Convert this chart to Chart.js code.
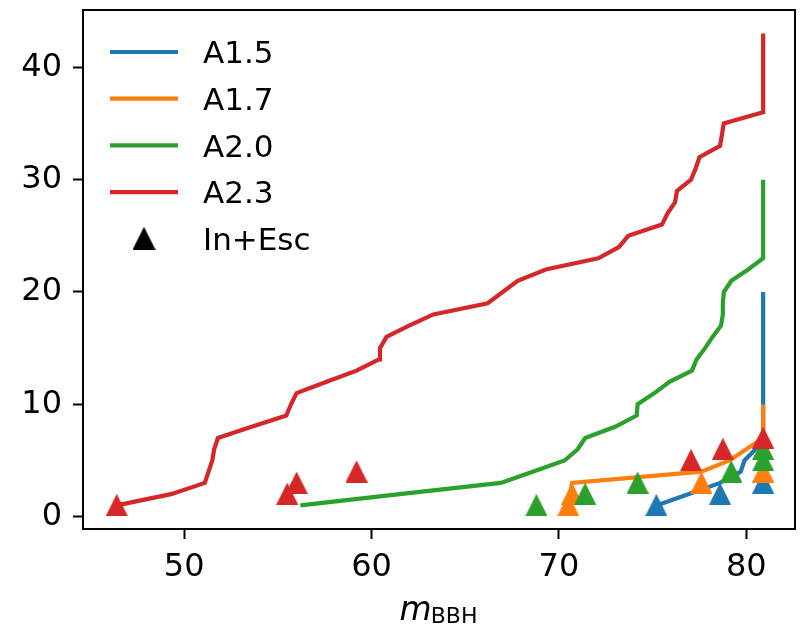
<!DOCTYPE html>
<html lang="en">
<head>
<meta charset="UTF-8">
<title>m_BBH cumulative counts</title>
<script src="https://cdn.jsdelivr.net/npm/chart.js"></script>
<style>
    body { margin: 0; background: #fff; }
    #chart { display: block; }
</style>
</head>
<body>
<canvas id="chart" width="800" height="627"></canvas>
<script>
    // series lines (cumulative count vs m_BBH)
    const a15LineX = [75.2, 76.9, 78.6, 79.7, 79.9, 80.5, 80.9, 80.9];
    const a15LineY = [1, 2, 3, 4, 5, 6, 7, 20];
    const a17LineX = [70.5, 70.6, 70.7, 77.6, 79.1, 80.0, 80.9, 80.9];
    const a17LineY = [1, 2, 3, 4, 5, 6, 7, 10];
    const a20LineX = [56.2, 61.5, 66.9, 68.6, 70.3, 71.0, 71.4, 73.0, 74.15, 74.2, 75.1, 75.9,
                      77.1, 77.35, 77.8, 78.2, 78.65, 78.75, 78.75, 78.8, 79.2, 80.1, 80.9, 80.9];
    const a20LineY = [1, 2, 3, 4, 5, 6, 7, 8, 9, 10, 11, 12,
                      13, 14, 15, 16, 17, 18, 19, 20, 21, 22, 23, 30];
    const a23LineX = [46.4, 49.3, 51.1, 51.3, 51.5, 51.6, 51.8, 53.6, 55.45, 55.7, 56.0, 57.6,
                      59.2, 60.4, 60.45, 60.8, 62.0, 63.3, 66.2, 67.0, 67.8, 69.3, 72.1, 73.2,
                      73.7, 75.5, 75.8, 76.2, 76.3, 77.05, 77.3, 77.5, 78.6, 78.7, 78.8, 80.9, 80.9];
    const a23LineY = [1, 2, 3, 4, 5, 6, 7, 8, 9, 10, 11, 12,
                      13, 14, 15, 16, 17, 18, 19, 20, 21, 22, 23, 24,
                      25, 26, 27, 28, 29, 30, 31, 32, 33, 34, 35, 36, 43];

    // In+Esc markers
    const a15MarkX = [75.2, 78.6, 80.9];
    const a15MarkY = [1, 2, 3];
    const a17MarkX = [70.5, 70.7, 77.6, 80.9];
    const a17MarkY = [1, 2, 3, 4];
    const a20MarkX = [68.8, 71.4, 74.2, 79.2, 80.9, 80.9];
    const a20MarkY = [1, 2, 3, 4, 5, 6];
    const a23MarkX = [46.4, 55.5, 56.0, 59.2, 77.05, 78.75, 80.9];
    const a23MarkY = [1, 2, 3, 4, 5, 6, 7];

    const seriesNames = ["A1.5", "A1.7", "A2.0", "A2.3"];
    const markerName = "In+Esc";
    const xTicks = [50, 60, 70, 80];
    const yTicks = [0, 10, 20, 30, 40];
    const xTitle = "m";
    const xTitleSub = "BBH";

    const colors = ["#1f77b4", "#ff7f0e", "#2ca02c", "#d62728"];
    const FONT = "'DejaVu Sans', sans-serif";

    function pts(xs, ys) {
        return xs.map((x, i) => ({ x: x, y: ys[i] }));
    }

    // matplotlib-like "^" marker: bbox centred on the point
    function triangle(color, size) {
        const c = document.createElement("canvas");
        c.width = size; c.height = size;
        const g = c.getContext("2d");
        g.fillStyle = color;
        g.strokeStyle = color;
        g.lineWidth = 1;
        g.beginPath();
        g.moveTo(size / 2, 0.5);
        g.lineTo(size - 0.5, size - 0.5);
        g.lineTo(0.5, size - 0.5);
        g.closePath();
        g.fill();
        g.stroke();
        return c;
    }

    const lines = [[a15LineX, a15LineY], [a17LineX, a17LineY], [a20LineX, a20LineY], [a23LineX, a23LineY]];
    const marks = [[a15MarkX, a15MarkY], [a17MarkX, a17MarkY], [a20MarkX, a20MarkY], [a23MarkX, a23MarkY]];

    const datasets = [];
    seriesNames.forEach((name, i) => {
        datasets.push({
            label: name,
            data: pts(lines[i][0], lines[i][1]),
            showLine: true,
            borderColor: colors[i],
            backgroundColor: colors[i],
            borderWidth: 4.2,
            pointRadius: 0,
            tension: 0,
            order: 8 - 2 * i
        });
        datasets.push({
            label: name + " " + markerName,
            data: pts(marks[i][0], marks[i][1]),
            showLine: false,
            pointStyle: triangle(colors[i], 22),
            pointRadius: 11,
            order: 7 - 2 * i
        });
    });

    // full box around the plot
    const boxPlugin = {
        id: "box",
        afterDatasetsDraw(chart) {
            const a = chart.chartArea;
            const ctx = chart.ctx;
            ctx.save();
            ctx.strokeStyle = "#000";
            ctx.lineWidth = 2;
            ctx.strokeRect(a.left, a.top, a.right - a.left, a.bottom - a.top);
            ctx.restore();
        }
    };

    // legend in the upper left corner
    const legendPlugin = {
        id: "cornerLegend",
        afterDraw(chart) {
            const a = chart.chartArea;
            const ctx = chart.ctx;
            const x0 = a.left + 27, x1 = a.left + 95, tx = a.left + 120;
            const rowH = 46.7;
            ctx.save();
            ctx.font = "31px " + FONT;
            ctx.fillStyle = "#000";
            ctx.textBaseline = "alphabetic";
            seriesNames.forEach((name, i) => {
                const y = a.top + 42 + i * rowH;
                ctx.strokeStyle = colors[i];
                ctx.lineWidth = 4.2;
                ctx.beginPath();
                ctx.moveTo(x0, y);
                ctx.lineTo(x1, y);
                ctx.stroke();
                ctx.fillText(name, tx, y + 11.3);
            });
            const y = a.top + 42 + 4 * rowH;
            const tri = triangle("#000", 23);
            ctx.drawImage(tri, (x0 + x1) / 2 - 11.5, y - 11.5);
            ctx.fillText(markerName, tx, y + 11.3);
            ctx.restore();
        }
    };

    // x axis title m_BBH
    const xTitlePlugin = {
        id: "xTitle",
        afterDraw(chart) {
            const a = chart.chartArea;
            const ctx = chart.ctx;
            ctx.save();
            ctx.fillStyle = "#000";
            ctx.textBaseline = "alphabetic";
            ctx.font = "oblique 33px " + FONT;
            const wm = ctx.measureText(xTitle).width;
            ctx.font = "22px " + FONT;
            const ws = ctx.measureText(xTitleSub).width;
            const start = (a.left + a.right) / 2 - (wm + ws) / 2;
            const base = a.bottom + 91;
            ctx.font = "oblique 33px " + FONT;
            ctx.fillText(xTitle, start, base);
            ctx.font = "22px " + FONT;
            ctx.fillText(xTitleSub, start + wm - 1, base + 3.3);
            ctx.restore();
        }
    };

    const axisCommon = {
        grid: { display: true, drawOnChartArea: false, drawTicks: true, tickLength: 10, tickWidth: 2, tickColor: "#000" },
        border: { display: true, color: "#000", width: 2 },
        ticks: { color: "#000", font: { family: FONT, size: 32 } }
    };

    new Chart(document.getElementById("chart").getContext("2d"), {
        type: "scatter",
        data: { datasets: datasets },
        plugins: [boxPlugin, legendPlugin, xTitlePlugin],
        options: {
            responsive: false,
            animation: false,
            layout: { autoPadding: false, padding: { top: 10, right: 5, left: 0, bottom: 0 } },
            plugins: { legend: { display: false }, tooltip: { enabled: false } },
            scales: {
                x: {
                    type: "linear",
                    min: 44.6,
                    max: 82.6,
                    grid: axisCommon.grid,
                    border: axisCommon.border,
                    ticks: Object.assign({ padding: 9, maxRotation: 0 }, axisCommon.ticks),
                    afterBuildTicks: (s) => { s.ticks = xTicks.map(v => ({ value: v })); },
                    afterFit: (s) => { s.height = 98; s.paddingLeft = 0; s.paddingRight = 0; }
                },
                y: {
                    type: "linear",
                    min: -1.1,
                    max: 45.1,
                    grid: axisCommon.grid,
                    border: axisCommon.border,
                    ticks: Object.assign({ padding: 11 }, axisCommon.ticks),
                    afterBuildTicks: (s) => { s.ticks = yTicks.map(v => ({ value: v })); },
                    afterFit: (s) => { s.width = 83; s.paddingTop = 0; s.paddingBottom = 0; }
                }
            }
        }
    });
</script>
</body>
</html>
